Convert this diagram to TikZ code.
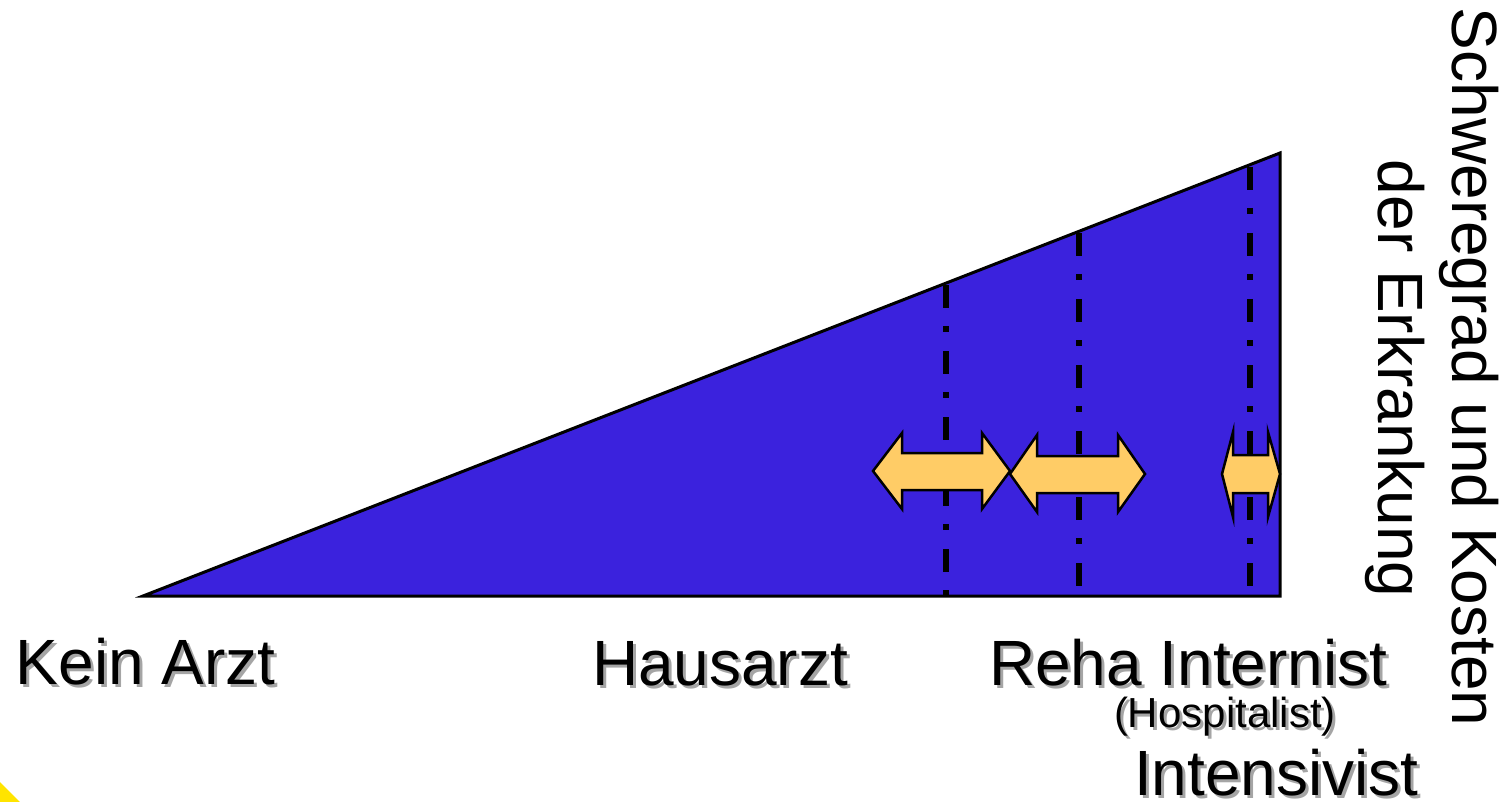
\documentclass[tikz,border=0pt]{standalone}
\usepackage{fontspec}
\setmainfont{Liberation Sans}
\definecolor{wedgeblue}{RGB}{59,34,221}
\definecolor{arrowfill}{RGB}{255,204,102}
\definecolor{cornery}{RGB}{255,228,0}
\definecolor{shadowgray}{RGB}{165,165,165}
\newcommand{\shtext}[1]{\makebox[0pt][l]{\hspace{3pt}\raisebox{-3pt}{\textcolor{shadowgray}{#1}}}#1}
\tikzset{
  wedge/.style={fill=wedgeblue, draw=black, line width=3pt, line join=miter},
  dashdot/.style={draw=black, line width=5.5pt, dash pattern=on 23pt off 18pt on 6pt off 19pt},
  dblarrow/.style={fill=arrowfill, draw=black, line width=2.5pt, line join=miter},
  big/.style={inner sep=0pt, outer sep=0pt, font=\fontsize{64}{72}\selectfont},
  small/.style={inner sep=0pt, outer sep=0pt, font=\fontsize{42}{48}\selectfont},
}
\begin{document}
\begin{tikzpicture}[x=1pt,y=-1pt]
\useasboundingbox (0,0) rectangle (1510,802);
% corner
\fill[cornery] (0,782) -- (20,802) -- (0,802) -- cycle;
% wedge
\coordinate (tl) at (143,596);
\coordinate (br) at (1280,596);
\coordinate (tr) at (1280,153);
\draw[wedge] (tl) -- (br) -- (tr) -- cycle;
% dash-dot lines
\coordinate (d1t) at (946,285); \coordinate (d1b) at (946,596);
\coordinate (d2t) at (1079,233); \coordinate (d2b) at (1079,596);
\coordinate (d3t) at (1250,167); \coordinate (d3b) at (1250,596);
\draw[dashdot] (d1t) -- (d1b);
\draw[dashdot] (d2t) -- (d2b);
\draw[dashdot] (d3t) -- (d3b);
% double arrows
\draw[dblarrow] (873,471) -- (902,433) -- (902,453) -- (982,453) -- (982,433) -- (1010,471)
  -- (982,509) -- (982,490) -- (902,490) -- (902,509) -- cycle;
\draw[dblarrow] (1010,474) -- (1037,435) -- (1037,456) -- (1118,456) -- (1118,435) -- (1145,474)
  -- (1118,512) -- (1118,493) -- (1037,493) -- (1037,512) -- cycle;
\draw[dblarrow] (1222,474) -- (1233,432) -- (1233,455) -- (1268,455) -- (1268,432) -- (1280,474)
  -- (1268,517) -- (1268,493) -- (1233,493) -- (1233,517) -- cycle;
% labels with shadows
\node[big, anchor=base west] (kein) at (16,684) {\shtext{Kein Arzt}};
\node[big, anchor=base west] (haus) at (592,685) {\shtext{Hausarzt}};
\node[big, anchor=base west] (reha) at (989,685) {\shtext{Reha Internist}};
\node[small, anchor=base west] (hosp) at (1114,727) {\shtext{(Hospitalist)}};
\node[big, anchor=base west] (int) at (1134,795) {\shtext{Intensivist}};
% rotated axis label
\node[big, rotate=-90, anchor=base west] (ax1) at (1452,8) {Schweregrad und Kosten};
\node[big, rotate=-90, anchor=base west] (ax2) at (1378,160) {der Erkrankung};
\end{tikzpicture}
\end{document}
